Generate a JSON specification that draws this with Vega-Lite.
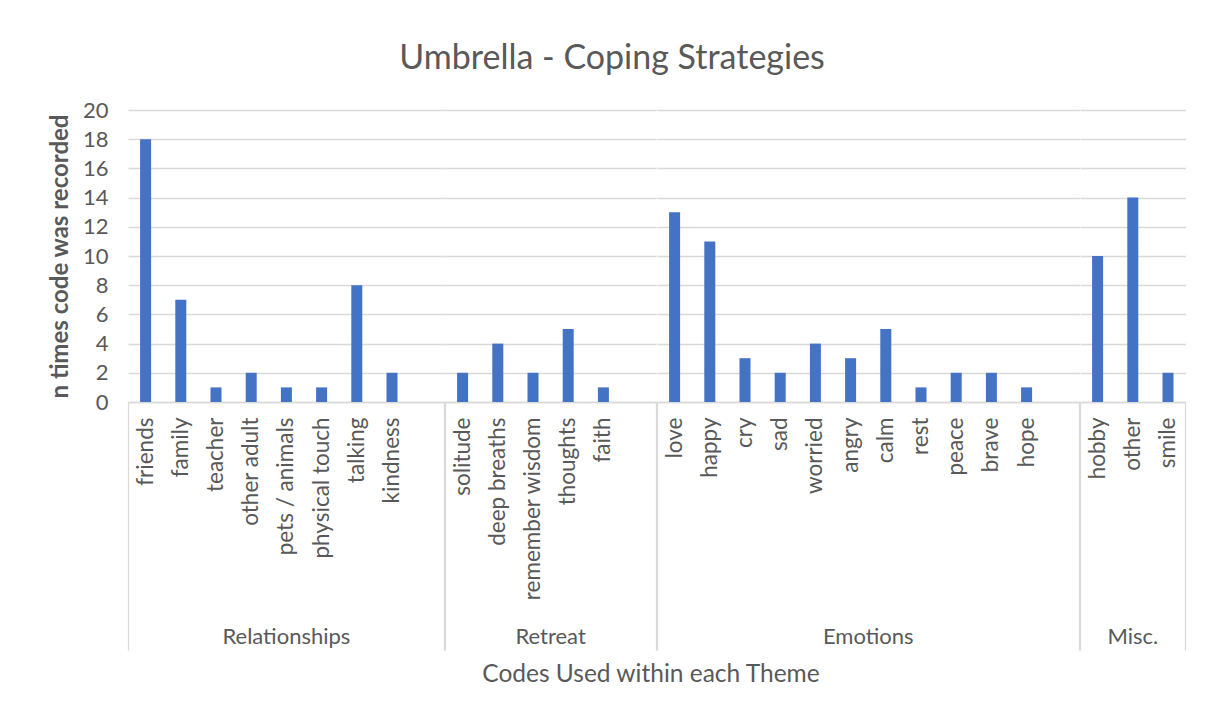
{
  "$schema": "https://vega.github.io/schema/vega-lite/v6.json",
  "padding": {"left": 48, "top": 42, "right": 20, "bottom": 5},
  "bounds": "flush",
  "title": {"text": "Umbrella - Coping Strategies", "fontSize": 34, "font": "Lato", "fontWeight": "normal", "color": "#595959", "anchor": "middle", "offset": 23, "dx": -5},
  "data": {"values": [
    {"theme": "Relationships", "code": "friends", "count": 18},
    {"theme": "Relationships", "code": "family", "count": 7},
    {"theme": "Relationships", "code": "teacher", "count": 1},
    {"theme": "Relationships", "code": "other adult", "count": 2},
    {"theme": "Relationships", "code": "pets / animals", "count": 1},
    {"theme": "Relationships", "code": "physical touch", "count": 1},
    {"theme": "Relationships", "code": "talking", "count": 8},
    {"theme": "Relationships", "code": "kindness", "count": 2},
    {"theme": "Relationships", "code": "", "count": null},
    {"theme": "Retreat", "code": "solitude", "count": 2},
    {"theme": "Retreat", "code": "deep breaths", "count": 4},
    {"theme": "Retreat", "code": "remember wisdom", "count": 2},
    {"theme": "Retreat", "code": "thoughts", "count": 5},
    {"theme": "Retreat", "code": "faith", "count": 1},
    {"theme": "Retreat", "code": "", "count": null},
    {"theme": "Emotions", "code": "love", "count": 13},
    {"theme": "Emotions", "code": "happy", "count": 11},
    {"theme": "Emotions", "code": "cry", "count": 3},
    {"theme": "Emotions", "code": "sad", "count": 2},
    {"theme": "Emotions", "code": "worried", "count": 4},
    {"theme": "Emotions", "code": "angry", "count": 3},
    {"theme": "Emotions", "code": "calm", "count": 5},
    {"theme": "Emotions", "code": "rest", "count": 1},
    {"theme": "Emotions", "code": "peace", "count": 2},
    {"theme": "Emotions", "code": "brave", "count": 2},
    {"theme": "Emotions", "code": "hope", "count": 1},
    {"theme": "Emotions", "code": "", "count": null},
    {"theme": "Misc.", "code": "hobby", "count": 10},
    {"theme": "Misc.", "code": "other", "count": 14},
    {"theme": "Misc.", "code": "smile", "count": 2}
  ]},
  "facet": {
    "column": {
      "field": "theme",
      "type": "nominal",
      "sort": ["Relationships", "Retreat", "Emotions", "Misc."],
      "title": "Codes Used within each Theme",
      "header": {
        "labelOrient": "bottom",
        "titleOrient": "bottom",
        "labelFont": "Lato",
        "labelFontSize": 22,
        "labelColor": "#595959",
        "labelPadding": 225,
        "titleFont": "Lato",
        "titleFontSize": 24.5,
        "titleFontWeight": "normal",
        "titleColor": "#595959",
        "titlePadding": 5
      }
    }
  },
  "spacing": 0,
  "resolve": {"scale": {"x": "independent"}},
  "spec": {
    "width": {"step": 35.2},
    "height": 292,
    "mark": {"type": "bar", "color": "#4472C4", "invalid": "show", "width": {"band": 0.3125}},
    "encoding": {
      "x": {
        "field": "code",
        "type": "nominal",
        "sort": null,
        "scale": {"paddingInner": 0, "paddingOuter": 0},
        "axis": {
          "title": null,
          "labelAngle": 270,
          "labelFont": "Lato",
          "labelFontSize": 22.5,
          "labelColor": "#595959",
          "labelPadding": -233,
          "labelLimit": 400,
          "labelOverlap": false,
          "labelBound": false,
          "ticks": true,
          "bandPosition": 1,
          "tickExtra": true,
          "tickSize": 248,
          "tickWidth": 1.3,
          "tickColor": "#D9D9D9",
          "tickOpacity": {"condition": {"test": "datum.index == 1 || datum.index < 0 || !!datum.extra", "value": 1}, "value": 0},
          "domainColor": "#D9D9D9",
          "domainWidth": 1.5,
          "grid": false
        }
      },
      "y": {
        "field": "count",
        "type": "quantitative",
        "scale": {"domain": [0, 20], "nice": false},
        "axis": {
          "title": "n times code was recorded",
          "titleFont": "Lato",
          "titleFontSize": 24,
          "titleFontWeight": "bold",
          "titleColor": "#595959",
          "titlePadding": 10,
          "values": [0, 2, 4, 6, 8, 10, 12, 14, 16, 18, 20],
          "labelFont": "Lato",
          "labelFontSize": 22,
          "labelColor": "#595959",
          "labelPadding": 20,
          "ticks": false,
          "domain": false,
          "grid": true,
          "gridColor": "#D9D9D9",
          "gridWidth": 1.3
        }
      }
    }
  },
  "config": {"view": {"stroke": null}, "font": "Lato"}
}
